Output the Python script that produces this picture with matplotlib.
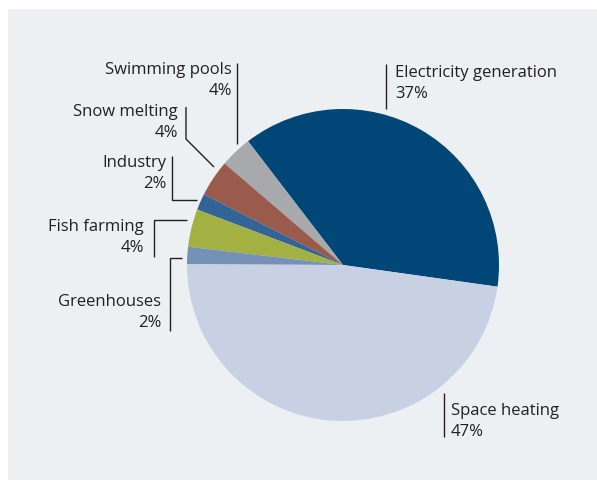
import matplotlib
matplotlib.use("Agg")
import matplotlib.pyplot as plt
from matplotlib.patches import Rectangle

# shares of the pie, counterclockwise from the right side
categories = ["Electricity generation", "Swimming pools", "Snow melting", "Industry",
              "Fish farming", "Greenhouses", "Space heating"]
shares = [37.6, 3.3, 3.8, 1.7, 3.9, 1.8, 47.8]
pct_labels = ["37%", "4%", "4%", "2%", "4%", "2%", "47%"]
colors = ["#004677", "#a7a9ac", "#9b5b4c", "#336497", "#a3b143", "#7591b7", "#c8d0e3"]

plt.rcParams['font.family'] = ['Open Sans', 'DejaVu Sans']

W, H = 597, 481
fig = plt.figure(figsize=(W / 100, H / 100), dpi=100)
ax = fig.add_axes([0, 0, 1, 1])

# panel background
ax.add_patch(Rectangle((8, 0), W - 8, H - 10, facecolor="#edf0f3", edgecolor="none", zorder=0))

ax.pie(shares, colors=colors, startangle=-8, counterclock=True,
       center=(343, H - 266), radius=156, frame=True,
       wedgeprops=dict(linewidth=0))
ax.set_xlim(0, W)
ax.set_ylim(0, H)
ax.set_aspect('equal')
ax.axis('off')

def y(p):
    return H - p

txt = dict(fontsize=12, color="#231f20", va="center")
lw = 1.0
lc = "#231f20"

# label placement: (x, y of first line, alignment), leader line points
labels = {
    "Electricity generation": ((395, 73, "left"), [(386, 65), (386, 110)]),
    "Swimming pools": ((232, 70, "right"), [(237, 64), (237, 145)]),
    "Snow melting": ((178, 112, "right"), [(186, 108), (186, 140), (214, 168)]),
    "Industry": ((166, 163, "right"), [(172, 157), (172, 201), (197, 201)]),
    "Fish farming": ((144, 227, "right"), [(187, 221), (154, 221), (154, 258)]),
    "Greenhouses": ((161, 302, "right"), [(182, 259), (170, 259), (170, 332)]),
    "Space heating": ((451, 411, "left"), [(444, 394), (444, 438)]),
}

for name, pct in zip(categories, pct_labels):
    (tx, ty, ha), pts = labels[name]
    ax.text(tx, y(ty), name, ha=ha, **txt)
    ax.text(tx, y(ty + 21), pct, ha=ha, **txt)
    xs = [p[0] for p in pts]
    ys = [y(p[1]) for p in pts]
    ax.plot(xs, ys, color=lc, linewidth=lw, solid_capstyle='butt')

fig.savefig("out.png", dpi=100)
